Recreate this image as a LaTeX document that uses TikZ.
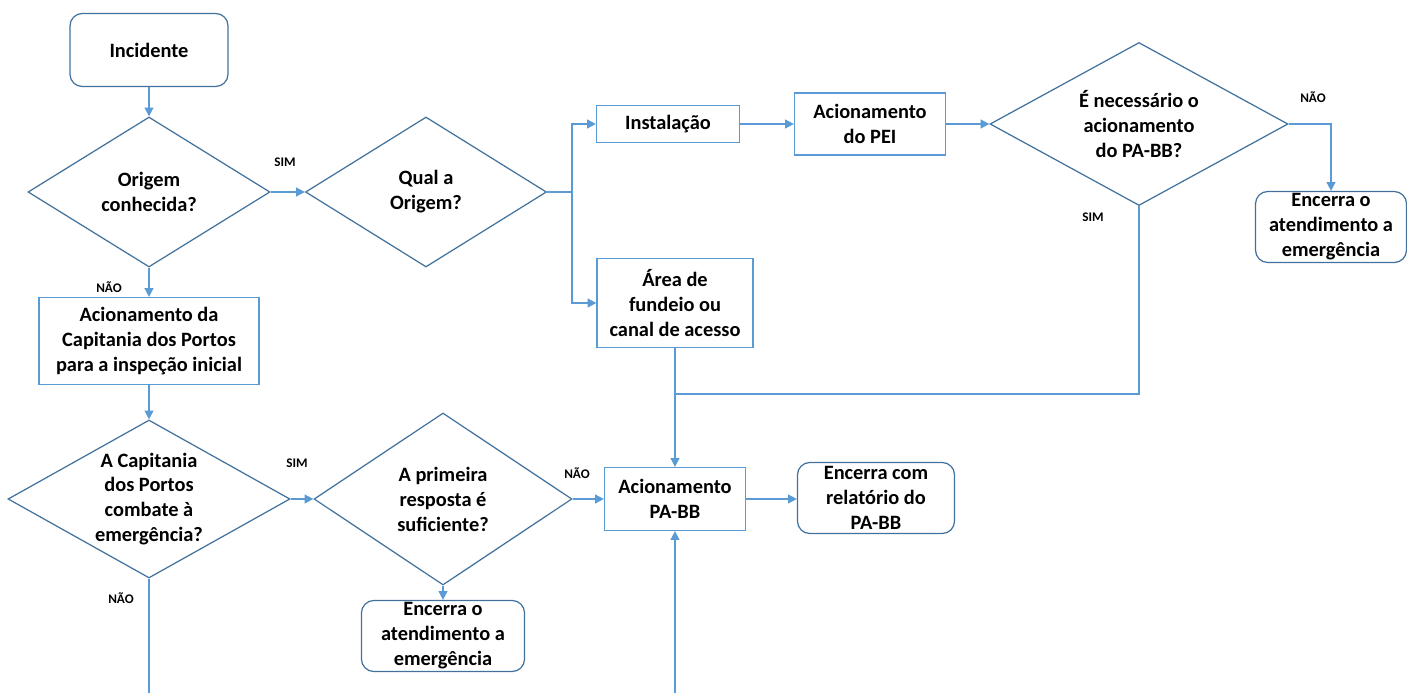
\documentclass[tikz,border=0pt]{standalone}
\usepackage{fontspec}
\setmainfont{Carlito}
\usetikzlibrary{arrows.meta, shapes.geometric}
\definecolor{cline}{RGB}{91,155,213}
\definecolor{cdark}{RGB}{65,113,156}
\tikzset{
  szw/.style = {minimum width=#1*0.02cm},
  szh/.style = {minimum height=#1*0.02cm},
}

\begin{document}
\begin{tikzpicture}[
  x = 0.02cm, y = -0.02cm,
  box/.style    = {rectangle, draw=cline, line width=0.7pt, inner sep=0pt,
                   align=center, font=\fontsize{11.6}{14.2}\selectfont\bfseries},
  endbox/.style = {box, draw=cdark, rounded corners=7pt},
  dia/.style    = {diamond, draw=cdark, line width=0.7pt, inner sep=0pt,
                   align=center, font=\fontsize{11.6}{14.2}\selectfont\bfseries},
  arr/.style    = {-{Triangle[length=5pt,width=5pt]}, cline, line width=1pt},
  ln/.style     = {cline, line width=1pt},
  yn/.style     = {font=\fontsize{7.5}{9}\selectfont\bfseries},
]
\useasboundingbox (0,0) rectangle (1407,693);

%% --- start and first questions ---
\node[endbox, szw=158, szh=73]                    (inc)  at (149,50)  {Incidente};
\node[dia, szw=242, szh=150, shape aspect=1.61]   (d1)   at (149,192) {Origem\\conhecida?};
\node[dia, szw=241, szh=150, shape aspect=1.61]   (d2)   at (426,192) {Qual a\\Origem?};

%% --- origin branches ---
\node[box, szw=143, szh=37]                       (inst) at (668,124) {Instalação};
\node[box, szw=151, szh=62]                       (pei)  at (870,124) {Acionamento\\do PEI};
\node[dia, szw=298, szh=163, shape aspect=1.83]   (d3)   at (1139,124) {É necessário o\\acionamento\\do PA-BB?};
\node[endbox, szw=151, szh=71]                    (fim3) at (1331,227) {Encerra o\\atendimento a\\emergência};
\node[box, szw=156, szh=89]                       (area) at (675,303) {Área de\\fundeio ou\\canal de acesso};

%% --- unknown origin ---
\node[box, szw=220, szh=87]                       (cap)  at (149,341) {Acionamento da\\Capitania dos Portos\\para a inspeção inicial};
\node[dia, szw=282, szh=158, shape aspect=1.78]   (d4)   at (149,499) {A Capitania\\dos Portos\\combate à\\emergência?};
\node[dia, szw=258, szh=172, shape aspect=1.5]    (d5)   at (443,499) {A primeira\\resposta é\\suficiente?};
\node[endbox, szw=163, szh=71]                    (fim1) at (443,636) {Encerra o\\atendimento a\\emergência};

%% --- PA-BB ---
\node[box, szw=141, szh=63]                       (pabb) at (675,499) {Acionamento\\PA-BB};
\node[endbox, szw=157, szh=71]                    (rel)  at (876,498) {Encerra com\\relatório do\\PA-BB};

\coordinate (jr)   at (572,192);
\coordinate (jm)   at (1139,394);
\coordinate (pin)  at (675,693);
\coordinate (pout) at (149,693);

%% --- Arrows ---
\draw[arr] (inc) -- (d1);
\draw[arr] (d1.east) -- (d2.west);
\draw[ln]  (d2.east) -- (jr);
\draw[arr] (jr) |- (inst.west);
\draw[arr] (jr) |- (area.west);
\draw[arr] (inst.east) -- (pei.west);
\draw[arr] (pei.east) -- (d3.west);
\draw[arr] (d3.east) -| (fim3.north);
\draw[ln]  (d3.south) |- (area.south |- jm);
\draw[arr] (area.south) -- (pabb.north);
\draw[arr] (d1.south) -- (cap.north);
\draw[arr] (cap.south) -- (d4.north);
\draw[arr] (d4.east) -- (d5.west);
\draw[arr] (d5.east) -- (pabb.west);
\draw[arr] (d5.south) -- (fim1.north);
\draw[arr] (pabb.east) -- (rel.west |- pabb.east);
\draw[arr] (pin) -- (pabb.south);
\draw[ln]  (d4.south) -- (pout);

%% --- SIM / NAO ---
\node[yn] at (285,162)  {SIM};
\node[yn] at (109,287)  {NÃO};
\node[yn] at (1313,97)  {NÃO};
\node[yn] at (1093,217) {SIM};
\node[yn] at (297,463)  {SIM};
\node[yn] at (577,473)  {NÃO};
\node[yn] at (121,598)  {NÃO};

\end{tikzpicture}
\end{document}
